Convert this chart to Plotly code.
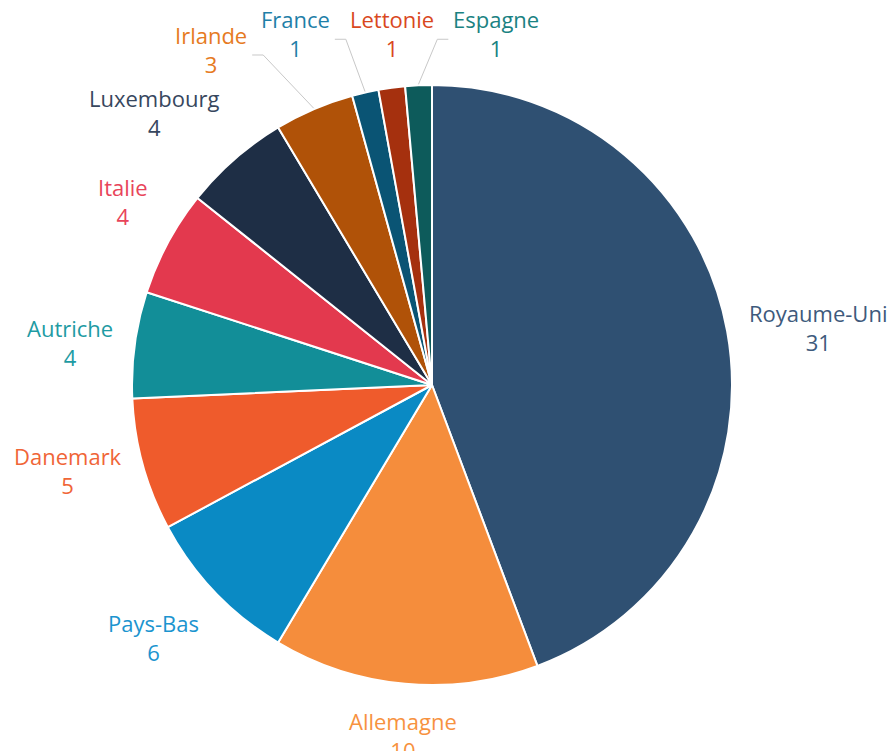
import math
import plotly.graph_objects as go

# ---- data ----
countries = ["Royaume-Uni", "Allemagne", "Pays-Bas", "Danemark", "Autriche",
             "Italie", "Luxembourg", "Irlande", "France", "Lettonie", "Espagne"]
values = [31, 10, 6, 5, 4, 4, 4, 3, 1, 1, 1]
colors = ["#2f5072", "#f58d3c", "#0a8ac4", "#ef5b2c", "#128e98",
          "#e3394e", "#1e2e45", "#b05208", "#0a5474", "#a5300e", "#0d5b5b"]
label_colors = ["#3e5a7c", "#f7923f", "#1b94cf", "#f06537", "#1e9ba3",
                "#e8445a", "#37475e", "#e67a22", "#1f7fa8", "#d9481e", "#1a8282"]

# ---- layout constants (pixels) ----
W, H = 893, 751
CX, CY, R = 432, 385, 300
DIST = 20            # label distance from pie edge
FS = 22              # font size
LH = FS * 1.3        # line height used by plotly
CHAR_W = 0.52 * FS   # rough character width for overlap handling
GAP = 14             # gap between crowded labels


def px2paper(x, y):
    return x / W, 1 - y / H


fig = go.Figure(go.Pie(
    labels=countries, values=values, sort=False, direction="clockwise",
    rotation=0, textinfo="none", hoverinfo="label+value",
    marker=dict(colors=colors, line=dict(color="white", width=2)),
    domain=dict(x=[(CX - R) / W, (CX + R) / W],
                y=[1 - (CY + R) / H, 1 - (CY - R) / H]),
    showlegend=False,
))

total = sum(values)
cum = 0
items = []
for name, v, c, lc in zip(countries, values, colors, label_colors):
    mid = (cum + v / 2) / total * 2 * math.pi
    cum += v
    s, co = math.sin(mid), math.cos(mid)
    ax, ay = CX + (R + DIST) * s, CY - (R + DIST) * co
    ex, ey = CX + (R + 1) * s, CY - (R + 1) * co
    xa = "left" if s > 0.3 else ("right" if s < -0.3 else "center")
    ya = "bottom" if co > 0.3 else ("top" if co < -0.3 else "middle")
    items.append(dict(name=name, v=v, lc=lc, s=s, co=co, x=ax, y=ay,
                      ex=ex, ey=ey, xa=xa, ya=ya,
                      w=len(name) * CHAR_W, h=1.8 * LH, conn=None))


def box(it):
    if it["xa"] == "left":
        x0 = it["x"]
    elif it["xa"] == "right":
        x0 = it["x"] - it["w"]
    else:
        x0 = it["x"] - it["w"] / 2
    if it["ya"] == "top":
        y0 = it["y"]
    elif it["ya"] == "bottom":
        y0 = it["y"] - it["h"]
    else:
        y0 = it["y"] - it["h"] / 2
    return x0, x0 + it["w"], y0, y0 + it["h"]


# labels crowded at the very top go into one row, spread horizontally
row_y = CY - R - DIST
row = [it for it in items if it["co"] > 0.95]
if row:
    row.sort(key=lambda it: it["ex"])
    k = len(row) // 2
    anchor = row[k]
    anchor.update(x=anchor["ex"], y=row_y, xa="center", ya="bottom")
    left_edge = anchor["x"] - anchor["w"] / 2
    for it in reversed(row[:k]):
        right = left_edge - GAP
        it.update(x=right, y=row_y, xa="right", ya="bottom", conn="left")
        left_edge = right - it["w"]
    right_edge = anchor["x"] + anchor["w"] / 2
    for it in row[k + 1:]:
        left = right_edge + GAP
        it.update(x=left, y=row_y, xa="left", ya="bottom", conn="right")
        right_edge = left + it["w"]

# remaining upper-left labels: push left (and slightly up) if they collide
placed = list(row)
upper_left = sorted([it for it in items if it not in row and it["s"] < 0 and it["co"] > 0],
                    key=lambda it: -it["co"])
for it in upper_left:
    for other in placed:
        a = box(it)
        b = box(other)
        if a[0] < b[1] and b[0] < a[1] and a[2] < b[3] and b[2] < a[3]:
            it.update(x=b[0] - GAP, y=min(it["y"], b[3] + 0.55 * LH),
                      xa="right", ya="bottom", conn="left")
    placed.append(it)

annotations = []
shapes = []
for it in items:
    xp, yp = px2paper(it["x"], it["y"])
    annotations.append(dict(
        x=xp, y=yp, xref="paper", yref="paper", showarrow=False,
        text=f"{it['name']}<br>{it['v']}", align="center",
        xanchor=it["xa"], yanchor=it["ya"],
        font=dict(family="Open Sans", size=FS, color=it["lc"]),
    ))
    if it["conn"]:
        b = box(it)
        ly = (b[2] + b[3]) / 2
        if it["conn"] == "left":
            x0, x1 = b[1] + 3, b[1] + 14
        else:
            x0, x1 = b[0] - 3, b[0] - 14
        p0 = px2paper(x0, ly)
        p1 = px2paper(x1, ly)
        p2 = px2paper(it["ex"], it["ey"])
        shapes.append(dict(
            type="path", xref="paper", yref="paper",
            path=f"M {p0[0]},{p0[1]} L {p1[0]},{p1[1]} L {p2[0]},{p2[1]}",
            line=dict(color="#c8c8c8", width=1),
        ))

fig.update_layout(
    width=W, height=H, margin=dict(l=0, r=0, t=0, b=0),
    paper_bgcolor="white", plot_bgcolor="white",
    annotations=annotations, shapes=shapes,
)

fig.write_html("out.html")
